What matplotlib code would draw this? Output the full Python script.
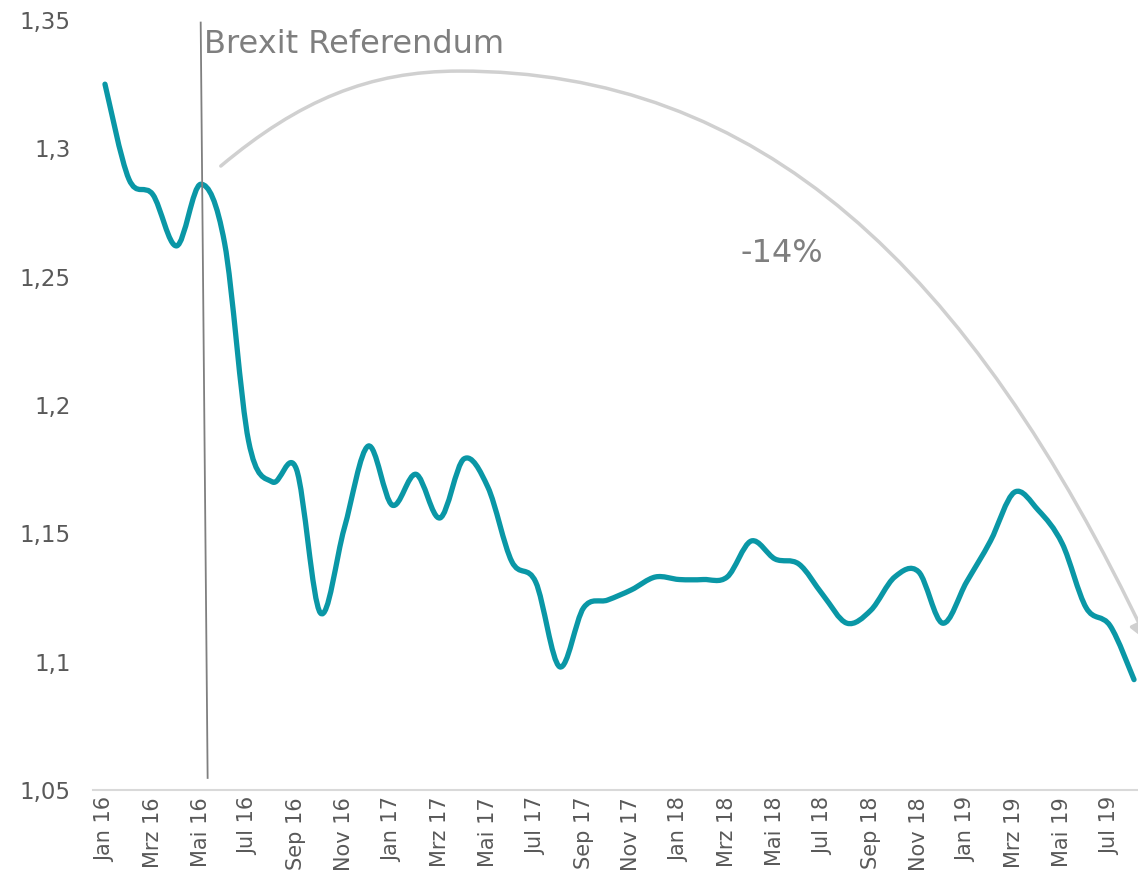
import numpy as np
import matplotlib
matplotlib.use("Agg")
import matplotlib.pyplot as plt
from matplotlib.path import Path
from matplotlib.patches import FancyArrowPatch, PathPatch

# GBP/EUR, monatlich Jan 16 - Aug 19
kurs = [1.325, 1.288, 1.282, 1.262, 1.286, 1.263, 1.186, 1.170, 1.175, 1.119,
        1.152, 1.184, 1.161, 1.173, 1.156, 1.179, 1.168, 1.139, 1.131, 1.098,
        1.121, 1.124, 1.128, 1.133, 1.132, 1.132, 1.133, 1.147, 1.140, 1.138,
        1.126, 1.115, 1.120, 1.133, 1.135, 1.115, 1.131, 1.147, 1.166, 1.159,
        1.146, 1.121, 1.114, 1.093]
monat = np.arange(len(kurs))

tick_labels = ["Jan 16", "Mrz 16", "Mai 16", "Jul 16", "Sep 16", "Nov 16",
               "Jan 17", "Mrz 17", "Mai 17", "Jul 17", "Sep 17", "Nov 17",
               "Jan 18", "Mrz 18", "Mai 18", "Jul 18", "Sep 18", "Nov 18",
               "Jan 19", "Mrz 19", "Mai 19", "Jul 19"]
y_ticks = [1.05, 1.1, 1.15, 1.2, 1.25, 1.3, 1.35]
y_labels = ["1,05", "1,1", "1,15", "1,2", "1,25", "1,3", "1,35"]

teal = "#0a97a6"
grau = "#595959"


def glatte_kurve(x, y):
    # Catmull-Rom -> Bezier, wie die geglaettete Linie in Excel
    pts = np.column_stack([x, y]).astype(float)
    verts = [pts[0]]
    codes = [Path.MOVETO]
    n = len(pts)
    for i in range(n - 1):
        p0 = pts[i - 1] if i > 0 else pts[i]
        p1 = pts[i]
        p2 = pts[i + 1]
        p3 = pts[i + 2] if i + 2 < n else pts[i + 1]
        c1 = p1 + (p2 - p0) / 6.0
        c2 = p2 - (p3 - p1) / 6.0
        verts += [c1, c2, p2]
        codes += [Path.CURVE4] * 3
    return Path(verts, codes)


fig = plt.figure(figsize=(11.38, 8.89), dpi=100)
ax = fig.add_axes([93 / 1138, 99 / 889, 1053 / 1138, 770 / 889])

kurve = PathPatch(glatte_kurve(monat, kurs), facecolor="none", edgecolor=teal,
                  lw=3.8, capstyle="round", joinstyle="round")
ax.add_patch(kurve)

ax.set_xlim(-0.5, 43.5)
ax.set_ylim(1.05, 1.35)
ax.set_xticks(np.arange(0, len(kurs), 2))
ax.set_xticklabels(tick_labels, rotation=90, fontsize=15, color=grau)
ax.set_yticks(y_ticks)
ax.set_yticklabels(y_labels, fontsize=16.5, color=grau)
ax.tick_params(axis="x", length=0, pad=5)
ax.tick_params(axis="y", length=0, pad=16)
for s in ["top", "right", "left"]:
    ax.spines[s].set_visible(False)
ax.spines["bottom"].set_color("#d9d9d9")
ax.spines["bottom"].set_linewidth(1.5)

# Brexit Referendum
ax.plot([4.0, 4.29], [1.349, 1.0547], color="#7f7f7f", lw=1.3, clip_on=False)
ax.text(4.13, 1.3403, "Brexit Referendum", fontsize=23, color="#7f7f7f",
        ha="left", va="center")

# Bogen mit Pfeil
bogen = Path([(4.84, 1.2931), (8.13, 1.3188), (11.05, 1.3301), (14.80, 1.3301),
              (27.31, 1.3301), (36.07, 1.2549), (43.58, 1.1077)],
             [Path.MOVETO, Path.CURVE4, Path.CURVE4, Path.CURVE4,
              Path.CURVE4, Path.CURVE4, Path.CURVE4])
pfeil = FancyArrowPatch(path=bogen, arrowstyle="-|>,head_length=12,head_width=6",
                        color="#d0d0d0", lw=2.5, clip_on=False,
                        transform=ax.transData)
ax.add_patch(pfeil)
ax.text(28.3, 1.2592, "-14%", fontsize=23, color="#7f7f7f", ha="center", va="center")

fig.savefig("out.png", dpi=100)
